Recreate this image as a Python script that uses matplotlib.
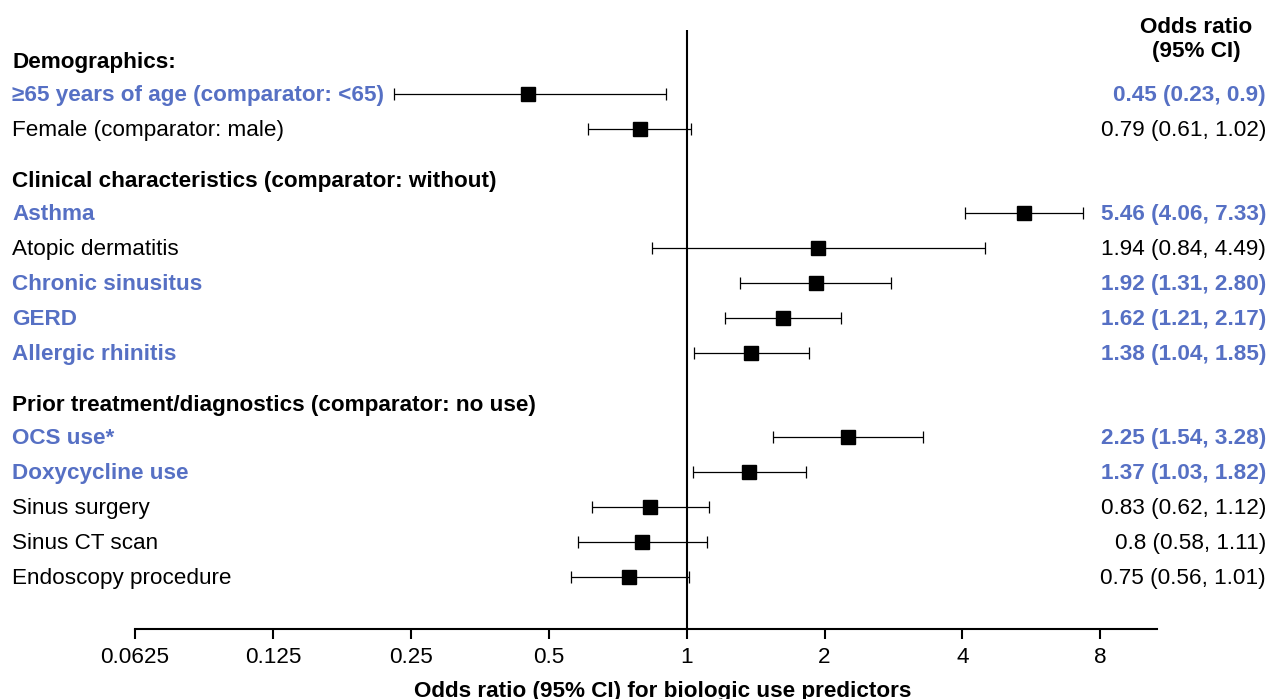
import matplotlib
matplotlib.use('Agg')
import matplotlib.pyplot as plt
import matplotlib.transforms as mtransforms
import numpy as np

plt.rcParams['font.family'] = ['Liberation Sans', 'DejaVu Sans']

# groups: header, then rows
headers = ['Demographics:',
           'Clinical characteristics (comparator: without)',
           'Prior treatment/diagnostics (comparator: no use)']
labels = [
    ['\u226565 years of age (comparator: <65)', 'Female (comparator: male)'],
    ['Asthma', 'Atopic dermatitis', 'Chronic sinusitus', 'GERD', 'Allergic rhinitis'],
    ['OCS use*', 'Doxycycline use', 'Sinus surgery', 'Sinus CT scan', 'Endoscopy procedure'],
]
odds = [[0.45, 0.79],
        [5.46, 1.94, 1.92, 1.62, 1.38],
        [2.25, 1.37, 0.83, 0.8, 0.75]]
lower = [[0.23, 0.61],
         [4.06, 0.84, 1.31, 1.21, 1.04],
         [1.54, 1.03, 0.62, 0.58, 0.56]]
upper = [[0.9, 1.02],
         [7.33, 4.49, 2.80, 2.17, 1.85],
         [3.28, 1.82, 1.12, 1.11, 1.01]]
ci_text = [['0.45 (0.23, 0.9)', '0.79 (0.61, 1.02)'],
           ['5.46 (4.06, 7.33)', '1.94 (0.84, 4.49)', '1.92 (1.31, 2.80)',
            '1.62 (1.21, 2.17)', '1.38 (1.04, 1.85)'],
           ['2.25 (1.54, 3.28)', '1.37 (1.03, 1.82)', '0.83 (0.62, 1.12)',
            '0.8 (0.58, 1.11)', '0.75 (0.56, 1.01)']]
significant = [[True, False],
               [True, False, True, True, True],
               [True, True, False, False, False]]
xticks = [0.0625, 0.125, 0.25, 0.5, 1, 2, 4, 8]
xticklabels = ['0.0625', '0.125', '0.25', '0.5', '1', '2', '4', '8']

blue = '#5670C4'
fs = 16.2

fig = plt.figure(figsize=(12.68, 6.99), dpi=100)
ax = fig.add_axes([135 / 1268, 70 / 699, (1157 - 135) / 1268, (629 - 30) / 699])
ax.set_xscale('log', base=2)
ax.set_xlim(0.0625, 2 ** ((1157 - 687) / 137.8))
ax.set_ylim(17.11, 0)

trans_left = mtransforms.blended_transform_factory(fig.transFigure, ax.transData)

y = 0.86
for g in range(len(headers)):
    ax.text(12 / 1268, y + 0.06, headers[g], transform=trans_left, fontsize=fs,
            fontweight='bold', va='center', ha='left')
    y += 0.97
    for i in range(len(labels[g])):
        c = blue if significant[g][i] else 'black'
        w = 'bold' if significant[g][i] else 'normal'
        ax.text(12 / 1268, y + 0.03, labels[g][i], transform=trans_left, fontsize=fs,
                fontweight=w, color=c, va='center', ha='left')
        ax.text(1266 / 1268, y + 0.03, ci_text[g][i], transform=trans_left, fontsize=fs,
                fontweight=w, color=c, va='center', ha='right')
        ax.errorbar(odds[g][i], y,
                    xerr=[[odds[g][i] - lower[g][i]], [upper[g][i] - odds[g][i]]],
                    fmt='s', color='black', ms=10.5, ecolor='black', elinewidth=0.9,
                    capsize=4, capthick=0.9)
        y += 1.0
    y += 0.43

ax.axvline(1, color='black', lw=1.5)

for s in ['top', 'right', 'left']:
    ax.spines[s].set_visible(False)
ax.spines['bottom'].set_linewidth(1.5)
ax.set_yticks([])
ax.set_xticks(xticks)
ax.set_xticklabels(xticklabels)
ax.minorticks_off()
ax.tick_params(axis='x', labelsize=fs, width=1.5, length=7, pad=6)

fig.text(1196 / 1268, 1 - 17 / 699, 'Odds ratio\n(95% CI)', fontsize=fs,
         fontweight='bold', ha='center', va='top', linespacing=1.2)
fig.text(663 / 1268, 1 - 681 / 699, 'Odds ratio (95% CI) for biologic use predictors',
         fontsize=fs, fontweight='bold', ha='center', va='top')

fig.savefig('out.png', dpi=100)
